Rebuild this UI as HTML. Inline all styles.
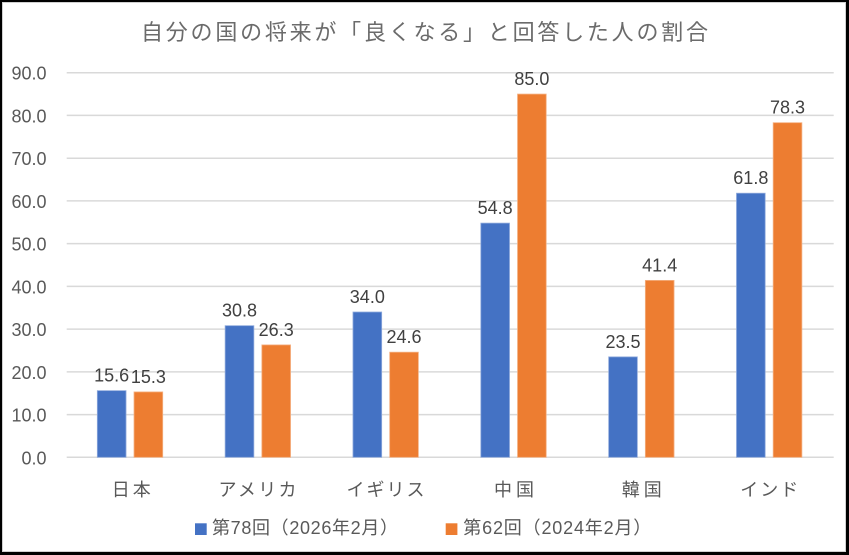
<!DOCTYPE html>
<html><head><meta charset="utf-8"><style>
html,body{margin:0;padding:0;background:#000;}
svg{display:block;}
text{font-family:"Liberation Sans","Noto Sans CJK JP",sans-serif;}
</style></head><body>
<svg width="849" height="555" viewBox="0 0 849 555" xmlns="http://www.w3.org/2000/svg">
<rect x="0" y="0" width="849" height="555" fill="#000"/>
<rect x="2" y="2" width="844" height="550" fill="#fff"/>
<rect x="2.5" y="2.5" width="843" height="549" fill="none" stroke="#d0d0d0" stroke-width="1"/>

<text x="424.5" y="40" text-anchor="middle" font-size="22" fill="#6b6b6b" textLength="567" lengthAdjust="spacing">自分の国の将来が「良くなる」と回答した人の割合</text>

<g stroke="#d9d9d9" stroke-width="1.5">
<line x1="66.7" x2="833.7" y1="72.7" y2="72.7"/>
<line x1="66.7" x2="833.7" y1="115.4" y2="115.4"/>
<line x1="66.7" x2="833.7" y1="158.2" y2="158.2"/>
<line x1="66.7" x2="833.7" y1="200.9" y2="200.9"/>
<line x1="66.7" x2="833.7" y1="243.6" y2="243.6"/>
<line x1="66.7" x2="833.7" y1="286.4" y2="286.4"/>
<line x1="66.7" x2="833.7" y1="329.1" y2="329.1"/>
<line x1="66.7" x2="833.7" y1="371.9" y2="371.9"/>
<line x1="66.7" x2="833.7" y1="414.6" y2="414.6"/>
<line x1="66.7" x2="833.7" y1="457.3" y2="457.3"/>
</g>

<g font-size="18" fill="#595959" text-anchor="end">
<text x="46.5" y="79.7">90.0</text>
<text x="46.5" y="122.4">80.0</text>
<text x="46.5" y="165.2">70.0</text>
<text x="46.5" y="207.9">60.0</text>
<text x="46.5" y="250.6">50.0</text>
<text x="46.5" y="293.4">40.0</text>
<text x="46.5" y="336.1">30.0</text>
<text x="46.5" y="378.9">20.0</text>
<text x="46.5" y="421.6">10.0</text>
<text x="46.5" y="464.3">0.0</text>
</g>

<g fill="#4472C4" stroke="#8faadc" stroke-width="0.8">
<rect x="97.32" y="390.64" width="28.7" height="66.66"/>
<rect x="225.15" y="325.68" width="28.7" height="131.62"/>
<rect x="352.98" y="312.01" width="28.7" height="145.29"/>
<rect x="480.82" y="223.12" width="28.7" height="234.18"/>
<rect x="608.65" y="356.88" width="28.7" height="100.42"/>
<rect x="736.48" y="193.21" width="28.7" height="264.09"/>
</g>
<g fill="#ED7D31" stroke="#f4b183" stroke-width="0.8">
<rect x="134.02" y="391.92" width="28.7" height="65.38"/>
<rect x="261.85" y="344.91" width="28.7" height="112.39"/>
<rect x="389.68" y="352.18" width="28.7" height="105.12"/>
<rect x="517.52" y="94.07" width="28.7" height="363.23"/>
<rect x="645.35" y="280.39" width="28.7" height="176.91"/>
<rect x="773.18" y="122.70" width="28.7" height="334.60"/>
</g>

<g font-size="18" fill="#404040" text-anchor="middle">
<text x="111.67" y="381.6">15.6</text>
<text x="148.37" y="382.9">15.3</text>
<text x="239.5" y="316.7">30.8</text>
<text x="276.2" y="335.9">26.3</text>
<text x="367.33" y="303.0">34.0</text>
<text x="404.03" y="343.2">24.6</text>
<text x="495.17" y="214.1">54.8</text>
<text x="531.87" y="85.1">85.0</text>
<text x="623.0" y="347.9">23.5</text>
<text x="659.7" y="271.4">41.4</text>
<text x="750.83" y="184.2">61.8</text>
<text x="787.53" y="113.7">78.3</text>
</g>

<g font-size="18" fill="#595959" text-anchor="middle">
<text x="131.2" y="496" textLength="39" lengthAdjust="spacing">日本</text>
<text x="257.5" y="496" textLength="78" lengthAdjust="spacing">アメリカ</text>
<text x="385.5" y="496" textLength="78" lengthAdjust="spacing">イギリス</text>
<text x="514" y="496" textLength="40" lengthAdjust="spacing">中国</text>
<text x="641.7" y="496" textLength="40" lengthAdjust="spacing">韓国</text>
<text x="769.2" y="496" textLength="58" lengthAdjust="spacing">インド</text>
</g>

<rect x="195" y="523.3" width="11.7" height="11.7" fill="#4472C4"/>
<text x="212" y="534" font-size="18" fill="#595959" textLength="186" lengthAdjust="spacing">第78回（2026年2月）</text>
<rect x="445.7" y="523.3" width="11.7" height="11.7" fill="#ED7D31"/>
<text x="463.3" y="534" font-size="18" fill="#595959" textLength="188" lengthAdjust="spacing">第62回（2024年2月）</text>
</svg>
</body></html>
